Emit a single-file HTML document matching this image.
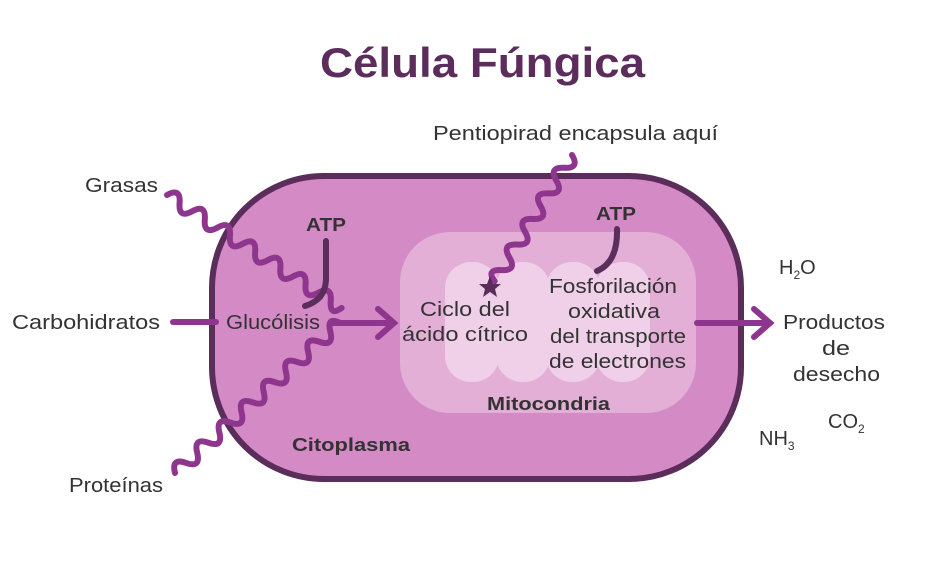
<!DOCTYPE html>
<html><head><meta charset="utf-8"><style>
html,body{margin:0;padding:0;background:#fff;}
svg{display:block;}
text{font-family:"Liberation Sans",sans-serif;fill:#333;}
</style></head><body>
<svg width="941" height="564" viewBox="0 0 941 564" xmlns="http://www.w3.org/2000/svg">
<text x="320" y="77" textLength="325" lengthAdjust="spacingAndGlyphs" font-size="42" font-weight="bold" style="fill:#5c2d5c">Célula Fúngica</text>
<rect x="212" y="176" width="529" height="303" rx="112" fill="#d48ac4" stroke="#5a2d5a" stroke-width="6"/>
<rect x="400" y="232" width="296" height="181" rx="50" fill="#e3afd6"/>
<g fill="#f0d0e8">
<rect x="445" y="262" width="54" height="120" rx="26"/>
<rect x="496" y="262" width="54" height="120" rx="26"/>
<rect x="546" y="262" width="54" height="120" rx="26"/>
<rect x="596" y="262" width="54" height="120" rx="26"/>
</g>
<g fill="none" stroke="#8e368e" stroke-width="6" stroke-linecap="round">
<path transform="translate(167,195) rotate(32.9)" d="M0 0 q7.5 -14 15 0 t15 0 t15 0 t15 0 t15 0 t15 0 t15 0 t15 0 t15 0 t15 0 t15 0 t15 0 t15 0 t13 0"/>
<path transform="translate(175,473) rotate(-42.3)" d="M0 0 q7.5 -14 15 0 t15 0 t15 0 t15 0 t15 0 t15 0 t15 0 t15 0 t15 0 t15 0 t15 0 t15 0 t15 0 t15 0 t13 0"/>
<path transform="translate(572,155) rotate(121.5)" d="M0 0 q7.5 -14 15 0 t15 0 t15 0 t15 0 t15 0 t15 0 t15 0 t15 0 t15 0 t13 0"/>
<path d="M173 322 H216"/>
<path d="M333 323 H393 M378 309 L394 323 L378 337"/>
<path d="M697 323 H769 M754 309 L770 323 L754 337"/>
</g>
<g fill="none" stroke="#5a2d5a" stroke-width="6" stroke-linecap="round">
<path d="M326 241 V280 Q325 300 305 306"/>
<path d="M617 229 Q618 262 597 271"/>
</g>
<polygon points="490,276 493,284 501,284 495,289 497,297 490,292 483,297 485,289 479,284 487,284" fill="#5a2d5a"/>
<g font-size="20">
<text x="85" y="192" textLength="73" lengthAdjust="spacingAndGlyphs">Grasas</text>
<text x="12" y="329" textLength="148" lengthAdjust="spacingAndGlyphs">Carbohidratos</text>
<text x="69" y="492" textLength="94" lengthAdjust="spacingAndGlyphs">Proteínas</text>
<text x="433" y="140" textLength="285" lengthAdjust="spacingAndGlyphs">Pentiopirad encapsula aquí</text>
<text x="226" y="329" textLength="94" lengthAdjust="spacingAndGlyphs">Glucólisis</text>
<text x="420" y="316" textLength="90" lengthAdjust="spacingAndGlyphs">Ciclo del</text>
<text x="402" y="341" textLength="126" lengthAdjust="spacingAndGlyphs">ácido cítrico</text>
<text x="549" y="293" textLength="128" lengthAdjust="spacingAndGlyphs">Fosforilación</text>
<text x="568" y="318" textLength="92" lengthAdjust="spacingAndGlyphs">oxidativa</text>
<text x="550" y="343" textLength="136" lengthAdjust="spacingAndGlyphs">del transporte</text>
<text x="549" y="368" textLength="137" lengthAdjust="spacingAndGlyphs">de electrones</text>
<text x="783" y="329" textLength="102" lengthAdjust="spacingAndGlyphs">Productos</text>
<text x="822" y="355" textLength="28" lengthAdjust="spacingAndGlyphs">de</text>
<text x="793" y="381" textLength="87" lengthAdjust="spacingAndGlyphs">desecho</text>
<text x="779" y="274">H<tspan font-size="12" dy="5">2</tspan><tspan dy="-5">O</tspan></text>
<text x="828" y="428">CO<tspan font-size="12" dy="5">2</tspan></text>
<text x="759" y="445">NH<tspan font-size="12" dy="5">3</tspan></text>
</g>
<g font-size="18" font-weight="bold">
<text x="306" y="231" textLength="40" lengthAdjust="spacingAndGlyphs">ATP</text>
<text x="596" y="220" textLength="40" lengthAdjust="spacingAndGlyphs">ATP</text>
<text x="487" y="410" textLength="123" lengthAdjust="spacingAndGlyphs">Mitocondria</text>
<text x="292" y="451" textLength="118" lengthAdjust="spacingAndGlyphs">Citoplasma</text>
</g>
</svg>
</body></html>
